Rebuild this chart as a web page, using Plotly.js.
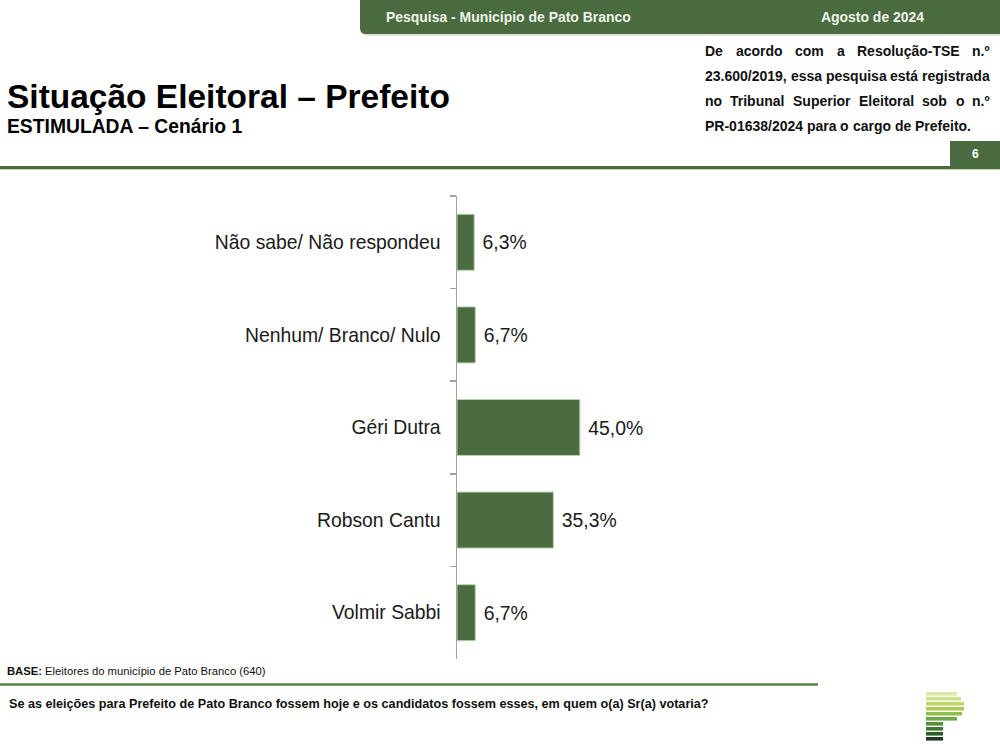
<!DOCTYPE html>
<html>
<head>
<meta charset="utf-8">
<script src="https://cdn.plot.ly/plotly-3.0.1.min.js"></script>
<style>html,body{margin:0;padding:0;background:#fff;}#chart{width:1000px;height:744px;}</style>
</head>
<body>
<div id="chart"></div>
<script>
// ---- data ----
const categories = ['Não sabe/ Não respondeu', 'Nenhum/ Branco/ Nulo', 'Géri Dutra', 'Robson Cantu', 'Volmir Sabbi'];
const values = [6.3, 6.7, 45.0, 35.3, 6.7];
const headerLeft = 'Pesquisa - Município de Pato Branco';
const headerRight = 'Agosto de 2024';
const titleText = 'Situação Eleitoral – Prefeito';
const subtitleText = 'ESTIMULADA – Cenário 1';
const noteLines = ['De acordo com a Resolução-TSE n.º', '23.600/2019, essa pesquisa está registrada', 'no Tribunal Superior Eleitoral sob o n.º', 'PR-01638/2024 para o cargo de Prefeito.'];
const pageNumber = '6';
const baseLabel = 'BASE:';
const baseText = 'Eleitores do município de Pato Branco (640)';
const questionText = 'Se as eleições para Prefeito de Pato Branco fossem hoje e os candidatos fossem esses, em quem o(a) Sr(a) votaria?';

// ---- geometry helpers ----
const W = 1000, H = 744;
const M = {l: 457, r: 270, t: 196, b: 85};
const PW = W - M.l - M.r, PH = H - M.t - M.b;
const X = px => (px - M.l) / PW;
const Y = py => (H - M.b - py) / PH;
const FONT = 'Liberation Sans, Arial, sans-serif';
const cv = document.createElement('canvas').getContext('2d');
function measure(t, size, bold) { cv.font = (bold ? 'bold ' : '') + size + 'px "Liberation Sans", Arial'; return cv.measureText(t).width; }
function fit(t, target, bold) { return 20 * target / measure(t, 20, bold); }

const green = '#4a6b3f';
const shapes = [];
const ann = [];

// header band with rounded bottom-left corner
shapes.push({type: 'path', xref: 'paper', yref: 'paper', layer: 'above',
  path: `M ${X(362)},${Y(0)} L ${X(1000)},${Y(0)} L ${X(1000)},${Y(36)} L ${X(368)},${Y(36)} Q ${X(362)},${Y(36)} ${X(362)},${Y(30)} Z`,
  fillcolor: 'rgba(0,0,0,0.12)', line: {width: 0}});
shapes.push({type: 'path', xref: 'paper', yref: 'paper', layer: 'above',
  path: `M ${X(360)},${Y(0)} L ${X(1000)},${Y(0)} L ${X(1000)},${Y(34)} L ${X(366)},${Y(34)} Q ${X(360)},${Y(34)} ${X(360)},${Y(28)} Z`,
  fillcolor: green, line: {width: 0}});
const hs = fit(headerLeft, 245, true);
ann.push({text: '<b>' + headerLeft + '</b>', x: X(385), y: Y(17), xanchor: 'left', yanchor: 'middle', font: {size: hs, color: '#eef3ea', family: FONT}});
ann.push({text: '<b>' + headerRight + '</b>', x: X(820), y: Y(17), xanchor: 'left', yanchor: 'middle', font: {size: hs, color: '#eef3ea', family: FONT}});

// title
const ts = fit(titleText, 443, true);
ann.push({text: '<b>' + titleText + '</b>', x: X(6), y: Y(96), xanchor: 'left', yanchor: 'middle', font: {size: ts, color: '#000', family: FONT}});
const ss = fit(subtitleText, 236, true);
ann.push({text: '<b>' + subtitleText + '</b>', x: X(6), y: Y(127), xanchor: 'left', yanchor: 'middle', font: {size: ss, color: '#000', family: FONT}});

// justified note block
const ns = fit(noteLines[1], 285, true);
const noteY = [51, 76, 101, 126];
noteLines.forEach((line, i) => {
  const words = line.split(' ');
  const widths = words.map(w => measure(w, ns, true));
  const total = widths.reduce((a, b) => a + b, 0);
  const justify = i < noteLines.length - 1;
  const gap = justify ? (285 - total) / (words.length - 1) : measure(' ', ns, true);
  let x = 705;
  words.forEach((w, j) => {
    ann.push({text: '<b>' + w + '</b>', x: X(x - 1), y: Y(noteY[i]), xanchor: 'left', yanchor: 'middle', font: {size: ns, color: '#111', family: FONT}});
    x += widths[j] + gap;
  });
});

// page number box and separator line
shapes.push({type: 'rect', xref: 'paper', yref: 'paper', x0: X(950), x1: X(1000), y0: Y(141), y1: Y(167), fillcolor: green, line: {width: 0}});
ann.push({text: '<b>' + pageNumber + '</b>', x: X(975), y: Y(154), xanchor: 'center', yanchor: 'middle', font: {size: 12, color: '#fff', family: FONT}});
shapes.push({type: 'line', xref: 'paper', yref: 'paper', x0: X(0), x1: X(1000), y0: Y(167.5), y1: Y(167.5), line: {color: green, width: 3}});
shapes.push({type: 'line', xref: 'paper', yref: 'paper', x0: X(0), x1: X(1000), y0: Y(169.5), y1: Y(169.5), line: {color: '#c3d8b8', width: 1}});

// footer
const bs = fit(baseLabel + ' ' + baseText, 257, false);
ann.push({text: '<b>' + baseLabel + '</b> ' + baseText, x: X(6), y: Y(671), xanchor: 'left', yanchor: 'middle', font: {size: bs, color: '#111', family: FONT}});
shapes.push({type: 'line', xref: 'paper', yref: 'paper', x0: X(0), x1: X(818), y0: Y(684.5), y1: Y(684.5), line: {color: '#557f47', width: 2.5}});
const qs = fit(questionText, 700, true);
ann.push({text: '<b>' + questionText + '</b>', x: X(8), y: Y(704), xanchor: 'left', yanchor: 'middle', font: {size: qs, color: '#111', family: FONT}});

// logo stripes
const logoRows = [[692, 957, '#dde9a6'], [697, 961, '#cde284'], [702, 964, '#bcd866'], [707, 964, '#a9ce52'], [712, 962, '#90c04b'], [717, 957, '#6ea943'], [722, 943, '#548e3b'], [727, 943, '#3f7633'], [732, 943, '#2d5c29'], [737, 943, '#1b3d1b']];
logoRows.forEach(r => shapes.push({type: 'rect', xref: 'paper', yref: 'paper', x0: X(926), x1: X(r[1]), y0: Y(r[0]), y1: Y(r[0] + 3.6), fillcolor: r[2], line: {width: 0}}));

const labelSize = fit('Não sabe/ Não respondeu', 226, false);
const valueSize = fit('45,0%', 55, false);

const trace = {
  type: 'bar', orientation: 'h', y: categories, x: values,
  marker: {color: '#4b6c40', line: {color: '#b9d3ad', width: 1}},
  text: values.map(v => '\u00a0' + v.toFixed(1).replace('.', ',') + '%'),
  textposition: 'outside', cliponaxis: false,
  textfont: {size: valueSize, color: '#1a1a1a', family: FONT},
  hoverinfo: 'skip'
};

const layout = {
  width: W, height: H, margin: M, showlegend: false,
  paper_bgcolor: '#fff', plot_bgcolor: '#fff', bargap: 0.395,
  separators: ',.',
  xaxis: {range: [0, 100], visible: false, fixedrange: true},
  yaxis: {autorange: 'reversed', type: 'category', showline: true, linecolor: '#a0a0a0', linewidth: 1.5,
    ticks: 'outside', tickson: 'boundaries', ticklen: 6, tickcolor: '#a0a0a0', tickwidth: 1.5,
    ticklabelstandoff: 11, tickfont: {size: labelSize, color: '#1a1a1a', family: FONT}, showgrid: false, zeroline: false},
  shapes: shapes,
  annotations: ann.map(a => Object.assign({xref: 'paper', yref: 'paper', showarrow: false, borderpad: 0}, a))
};

Plotly.newPlot('chart', [trace], layout, {displayModeBar: false, staticPlot: true});
</script>
</body>
</html>
